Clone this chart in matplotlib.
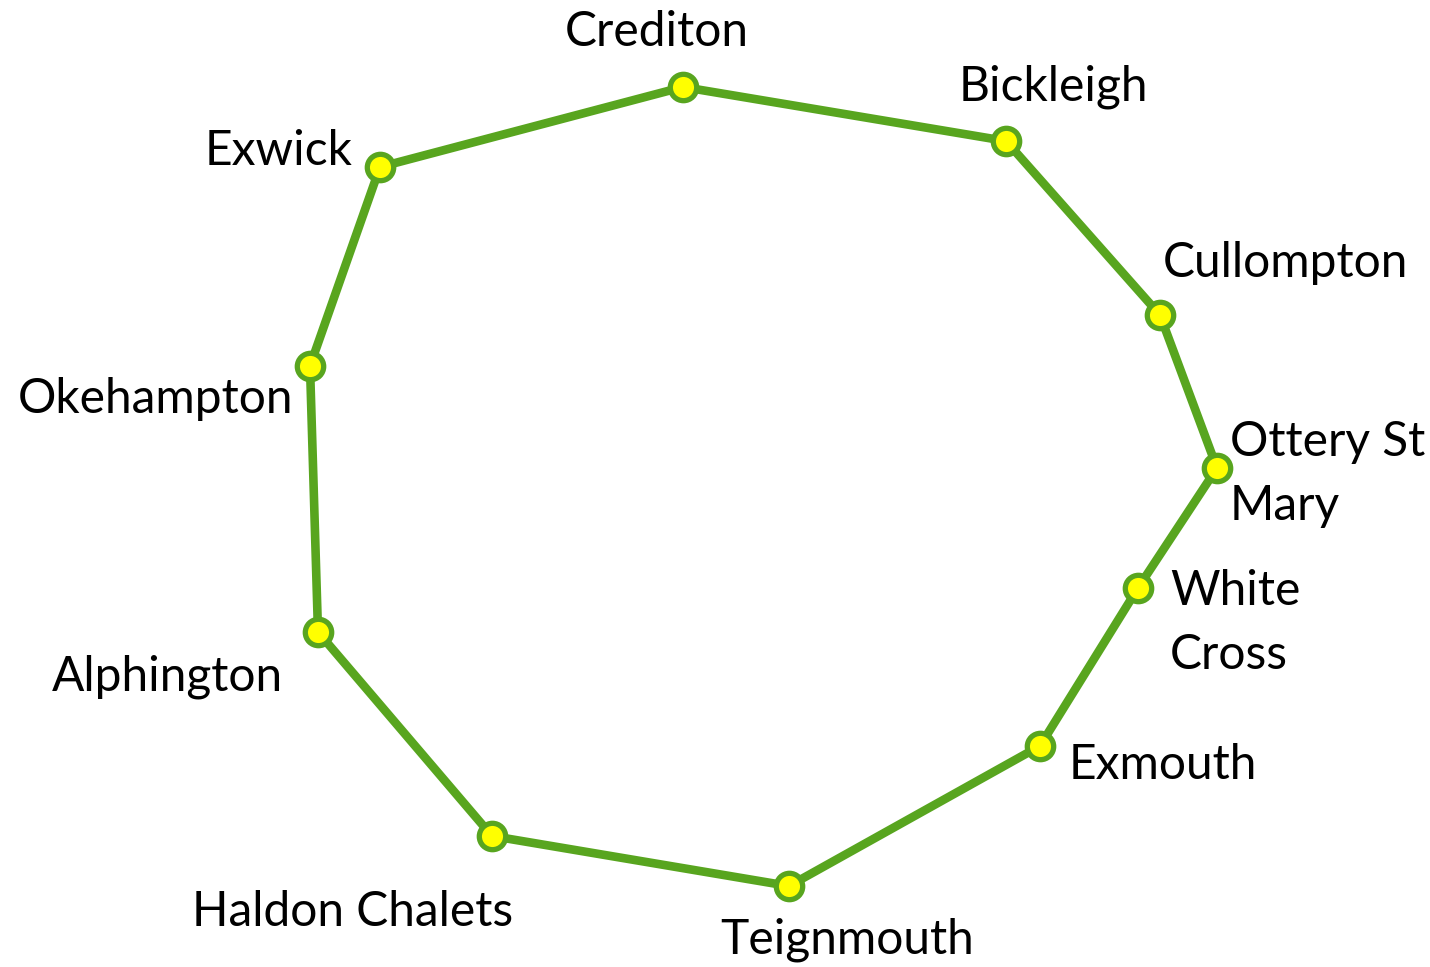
import numpy as np
import matplotlib.pyplot as plt

# stops on the loop, in drawing order (picture coordinates, y down)
stops = ['Crediton', 'Bickleigh', 'Cullompton', 'Ottery St\nMary', 'White\nCross',
         'Exmouth', 'Teignmouth', 'Haldon Chalets', 'Alphington', 'Okehampton', 'Exwick']
stop_x = [683, 1006, 1160, 1217, 1138, 1040, 789, 492, 318, 310, 380]
stop_y = [87, 141, 315, 468, 588, 746, 886, 836, 632, 366, 167]

# where each label sits
label_x = [657, 1053, 1285, 1230, 1170, 1163, 847, 353, 167, 155, 279]
label_y = [32, 87, 263, 474, 623, 765, 940, 912, 677, 399, 151]
label_ha = ['center', 'center', 'center', 'left', 'left', 'center', 'center',
            'center', 'center', 'center', 'center']

line_col = '#58a51f'

fig = plt.figure(figsize=(14.3, 9.67), dpi=100)
ax = fig.add_axes([0, 0, 1, 1])
ax.set_xlim(0, 1430)
ax.set_ylim(967, 0)
ax.axis('off')

xs = stop_x + [stop_x[0]]
ys = stop_y + [stop_y[0]]
ax.plot(xs, ys, '-', color=line_col, linewidth=6.2, solid_joinstyle='miter', zorder=1)
ax.plot(stop_x, stop_y, 'o', markersize=19, markerfacecolor='#ffff00',
        markeredgecolor=line_col, markeredgewidth=3.8, zorder=2)

for i in range(len(stops)):
    ax.text(label_x[i], label_y[i], stops[i], ha=label_ha[i], va='center',
            fontsize=34.5, family=['Lato', 'DejaVu Sans'], linespacing=1.55)

fig.savefig('out.png', dpi=100)
